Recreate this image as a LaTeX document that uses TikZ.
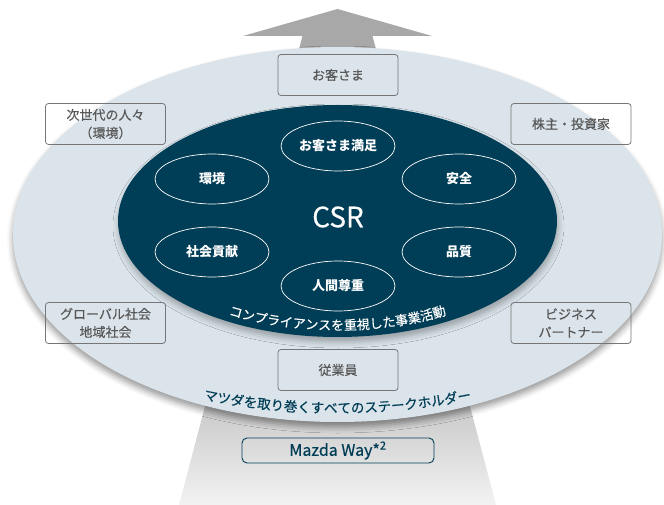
\documentclass[tikz,border=0pt]{standalone}
\usepackage{fontspec}
\setmainfont{Noto Sans CJK JP}
\newfontfamily\jpmed[FakeBold=0.35]{Noto Sans CJK JP}
\usetikzlibrary{shadows.blur,decorations.text,shapes.geometric}
\definecolor{navy}{RGB}{0,61,86}
\definecolor{pale}{RGB}{218,228,234}
\definecolor{boxgray}{RGB}{118,118,118}
\definecolor{txtgray}{RGB}{88,88,88}
\definecolor{arrowgray}{RGB}{168,168,168}
\begin{document}
\begin{tikzpicture}[x=1pt,y=1pt,
 stake/.style={draw=boxgray, line width=0.8pt, rounded corners=3pt, minimum width=120pt, minimum height=41pt, align=center, text=txtgray, font=\jpmed\fontsize{13}{18}\selectfont, inner sep=0pt},
 theme/.style={ellipse, draw=white, line width=0.7pt, minimum width=114pt, minimum height=50pt, inner sep=0pt, text=white, font=\fontsize{13}{15}\selectfont\bfseries}
]
\useasboundingbox (0,0) rectangle (664,-505);
% arrow behind
\fill[arrowgray] (243,-36) -- (337.5,-9) -- (432,-36) -- (372.5,-36) -- (394.6,-120) -- (280.4,-120) -- (302.5,-36) -- cycle;
\shade[top color=black!25, bottom color=black!5] (211.9,-380) -- (463.1,-380) -- (496,-505) -- (179,-505) -- cycle;
% outer ellipse
\fill[pale, blur shadow={shadow xshift=0pt, shadow yshift=-5pt, shadow blur radius=6pt, shadow opacity=40}] (337.5,-234.5) ellipse [x radius=324.5, y radius=187.5];
% inner ellipse
\fill[navy, blur shadow={shadow xshift=1pt, shadow yshift=-5pt, shadow blur radius=6pt, shadow opacity=30}] (337.5,-221) ellipse [x radius=219.5, y radius=116];
% curved texts
\path[decorate, decoration={text along path, text align=center, text color=white, text={|\jpmed\fontsize{13}{13}\selectfont|コンプライアンスを重視した事業活動}}] (186.2,-298.1) arc[start angle=225, end angle=315, x radius=214, y radius=109];
\path[decorate, decoration={text along path, text align=center, text color=navy, text={|\jpmed\fontsize{13.5}{13.5}\selectfont|マツダを取り巻くすべてのステークホルダー}}] (107.3,-372.4) arc[start angle=250, end angle=290, radius=673];
% stakeholders
\node[stake] (cust) at (338,-75) {お客さま};
\node[stake] (next) at (105.5,-124) {次世代の人々\\（環境）};
\node[stake] (share) at (571,-124) {株主・投資家};
\node[stake] (global) at (105.5,-323) {グローバル社会\\地域社会};
\node[stake] (biz) at (571,-323) {ビジネス\\パートナー};
\node[stake] (emp) at (338,-370) {従業員};
\node[draw=navy, line width=0.9pt, rounded corners=5pt, minimum width=192pt, minimum height=25pt, inner sep=0pt, text=navy, font=\jpmed\fontsize{16}{18}\selectfont] (way) at (338,-450.5) {Mazda Way*\textsuperscript{2}};
% themes
\node[theme] (cs) at (338,-146) {お客さま満足};
\node[theme] (env) at (212,-179) {環境};
\node[theme] (safe) at (459,-179) {安全};
\node[theme] (soc) at (212,-252) {社会貢献};
\node[theme] (qual) at (459,-252) {品質};
\node[theme] (hum) at (338,-286) {人間尊重};
\node[text=white, font=\jpmed\fontsize{28}{28}\selectfont] (csr) at (338,-217) {CSR};
\end{tikzpicture}
\end{document}
